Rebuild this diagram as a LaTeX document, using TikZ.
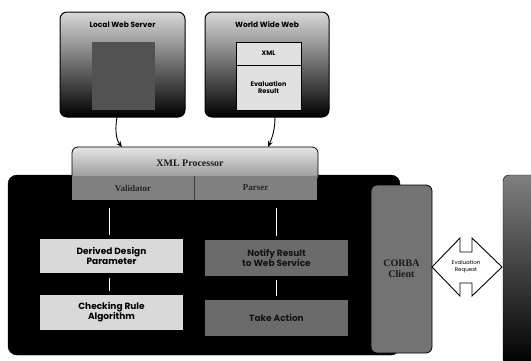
\documentclass[tikz,border=0pt]{standalone}
\usepackage{fontspec}
\setmainfont{Liberation Serif}
\newfontfamily\gothic{Poppins}
\usetikzlibrary{arrows.meta}
\tikzset{
  panel/.style={draw=black, line width=1pt, rounded corners=7pt,
    top color=black!15, middle color=black!62, bottom color=black},
  lightbox/.style={draw=none, fill=black!15, font=\gothic\bfseries\fontsize{9}{10}\selectfont,
    align=center, inner sep=0pt},
  darkbox/.style={draw=none, fill=black!58, text=black!92, font=\gothic\bfseries\fontsize{9}{10}\selectfont,
    align=center, inner sep=0pt},
  cell/.style={draw=black, line width=0.6pt, fill=black!12, align=center, inner sep=0pt,
    font=\gothic\bfseries\fontsize{6.5}{7.5}\selectfont},
  title/.style={font=\gothic\bfseries\fontsize{7.5}{8.5}\selectfont, inner sep=0pt},
  tab/.style={draw=none, fill=black!50, minimum height=24pt, inner sep=0pt,
    text=black!85, font=\bfseries\fontsize{9}{10}\selectfont},
  link/.style={white, line width=1.1pt},
  feed/.style={black, line width=0.9pt, -{Stealth[length=6pt,width=5pt]}}
}
\begin{document}
\begin{tikzpicture}[x=1pt,y=-1pt]
\useasboundingbox (0,0) rectangle (531,360);

% web sources
\node[panel, minimum width=125pt, minimum height=105pt] (lws) at (122.5,64.5) {};
\node[title] (lwst) at (122.5,25) {Local Web Server};
\node[draw=none, fill=black!68, minimum width=63pt, minimum height=68pt, inner sep=0pt] (lwsdoc) at (123.5,76) {};

\node[panel, minimum width=124pt, minimum height=105pt] (www) at (267,64.5) {};
\node[title] (wwwt) at (267,25) {World Wide Web};
\node[cell, minimum width=65pt, minimum height=23pt] (xmlcell) at (268.5,53.5) {XML};
\node[cell, minimum width=65pt, minimum height=45pt] (evalcell) at (268.5,87.5) {Evaluation\\Result};

% evaluation system body
\node[draw=black, fill=black, rounded corners=9pt, minimum width=392pt, minimum height=180pt,
      inner sep=0pt] (sys) at (204,265) {};

% XML processor
\node[draw=black, line width=0.8pt, rounded corners=6pt, top color=black!10, bottom color=black!45,
      minimum width=246pt, minimum height=36pt, inner sep=0pt] (xproc) at (195,165) {};
\node[tab, minimum width=122pt] (tabA) at (133,188) {Validator};
\node[tab, minimum width=123pt] (tabB) at (255.5,188) {Parser};
\draw[black!75, line width=0.6pt] (tabA.north east) -- (tabA.south east);
\node[font=\bfseries\fontsize{10}{11}\selectfont, text=black!88, inner sep=0pt] (xproct) at (190,163) {XML Processor};

% processing steps
\node[lightbox, minimum width=143pt, minimum height=34pt] (ddp) at (111.5,256) {Derived Design\\Parameter};
\node[lightbox, minimum width=143pt, minimum height=35pt] (cra) at (111.5,312.5) {Checking Rule\\Algorithm};
\node[darkbox, minimum width=143pt, minimum height=36pt] (nrs) at (276.5,258) {Notify Result\\to Web Service};
\node[darkbox, minimum width=143pt, minimum height=36pt] (ta) at (276.5,318) {Take Action};

\draw[link] (tabA.south -| ddp.north) ++(-2,8) -- ([xshift=-2pt,yshift=4pt]ddp.north);
\draw[link] ([xshift=-2pt,yshift=-5pt]ddp.south) -- ([xshift=-2pt,yshift=4pt]cra.north);
\draw[link] ([yshift=-8pt]tabB.south -| nrs.north) -- ([yshift=4pt]nrs.north);
\draw[link] ([yshift=-4pt]nrs.south) -- ([yshift=4pt]ta.north);

% CORBA client
\node[draw=black, line width=0.8pt, fill=black!55, rounded corners=6pt, minimum width=61pt,
      minimum height=168pt, inner sep=0pt, align=center, text=black!90,
      font=\bfseries\fontsize{10}{11}\selectfont] (corba) at (401.5,269) {CORBA\\Client};

% request exchange arrow
\draw[black, line width=0.9pt, fill=white, line join=miter]
  (432,267) -- (460,238) -- (460,252) -- (472,252) -- (472,238) -- (502,267)
  -- (472,296) -- (472,283) -- (460,283) -- (460,296) -- cycle;
\node[align=center, inner sep=0pt, font=\gothic\fontsize{5.5}{7}\selectfont] (req) at (466,267) {Evaluation\\Request};

% remote server
\node[draw=black, rounded corners=6pt, top color=black!50, bottom color=black,
      minimum width=40pt, minimum height=190pt, inner sep=0pt] (srv) at (523,270) {};

% data feeds into the processor
\draw[feed] (117,117) .. controls (114,135) and (118,142) .. (122,147);
\draw[feed] (275,117) .. controls (275,130) and (272,138) .. (268,147);
\end{tikzpicture}
\end{document}
